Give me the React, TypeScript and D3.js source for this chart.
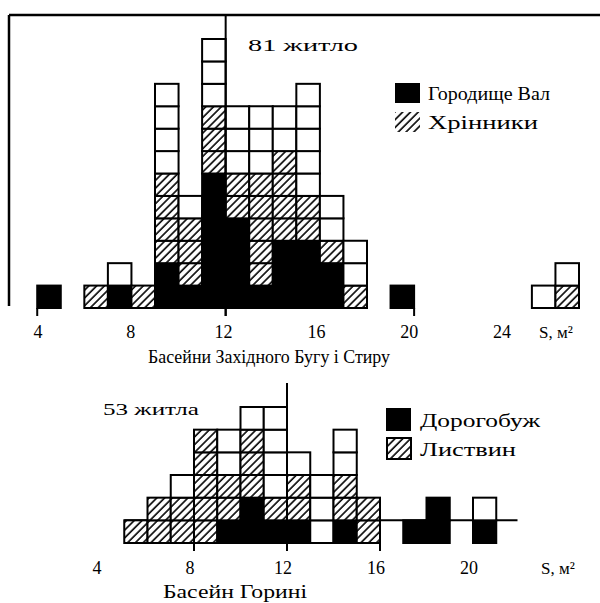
import React from "react";
import * as d3 from "d3";

// ---- Top chart: Western Bug & Styr basins (area bins, 1 m² wide) ----
const topBins = [4, 6, 7, 8, 9, 10, 11, 12, 13, 14, 15, 16, 17, 19, 25, 26];
const topBlack = [1, 0, 1, 0, 2, 1, 6, 4, 1, 3, 3, 2, 0, 1, 0, 0];
const topHatch = [0, 1, 0, 1, 4, 3, 3, 2, 5, 4, 2, 1, 1, 0, 0, 1];
const topTotal = [1, 1, 2, 1, 10, 5, 12, 9, 9, 9, 10, 5, 3, 1, 1, 2];
const topTicks = [4, 8, 12, 16, 20, 24];
const topTickMarks = [4, 12, 20, 28];

// ---- Bottom chart: Horyn basin ----
const botBins = [5, 6, 7, 8, 9, 10, 11, 12, 13, 14, 15, 17, 18, 20];
const botBlack = [0, 0, 0, 0, 1, 2, 1, 1, 0, 1, 0, 1, 2, 1];
const botHatch = [1, 2, 2, 5, 2, 3, 1, 2, 0, 2, 2, 0, 0, 0];
const botTotal = [1, 2, 3, 5, 5, 6, 6, 4, 3, 5, 2, 1, 2, 2];
const botTicks = [4, 8, 12, 16, 20];
const botTickMarks = [8, 12, 16];

const topTitle = "81 житло";
const botTitle = "53 житла";
const topLegend = ["Городище Вал", "Хрінники"];
const botLegend = ["Дорогобуж", "Листвин"];
const topAxisTitle = "Басейни Західного Бугу і Стиру";
const botAxisTitle = "Басейн Горині";
const unitLabel = "S, м²";

const FONT = "'Liberation Serif', 'DejaVu Serif', serif";

function Cells({ bins, black, hatch, total, x, y }: any) {
  const cells: any[] = [];
  bins.forEach((v: number, i: number) => {
    for (let k = 0; k < total[i]; k++) {
      const fill = k < black[i] ? "#000" : k < black[i] + hatch[i] ? "url(#hatch)" : "#fff";
      cells.push(
        <rect
          key={`${v}-${k}`}
          x={x(v)}
          y={y(k + 1)}
          width={x(v + 1) - x(v)}
          height={y(k) - y(k + 1)}
          fill={fill}
          stroke="#000"
          strokeWidth={2}
        />
      );
    }
  });
  return <g>{cells}</g>;
}

export default function App() {
  const xTop = d3.scaleLinear().domain([9, 18]).range([155, 367]);
  const yTop = d3.scaleLinear().domain([0, 12]).range([308, 39]);
  const xTopLabel = d3.scaleLinear().domain([4, 24]).range([38, 502]);

  const xBot = d3.scaleLinear().domain([12, 20]).range([287, 473]);
  const yBot = d3.scaleLinear().domain([0, 6]).range([543, 407]);
  const xBotLabel = d3.scaleLinear().domain([4, 20]).range([97, 469]);

  const sg = "spacingAndGlyphs";

  return (
    <svg
      width={600}
      height={603}
      style={{ position: "absolute", left: 0, top: 0, background: "#fff" }}
      fontFamily={FONT}
    >
      <defs>
        <pattern
          id="hatch"
          patternUnits="userSpaceOnUse"
          width={5.5}
          height={5.5}
          patternTransform="rotate(45)"
        >
          <rect width={5.5} height={5.5} fill="#fff" />
          <line x1={1} y1={0} x2={1} y2={5.5} stroke="#000" strokeWidth={1.6} />
        </pattern>
      </defs>

      {/* ===== Top chart ===== */}
      <line x1={9} y1={15} x2={600} y2={15} stroke="#000" strokeWidth={2.5} />
      <line x1={9} y1={15} x2={9} y2={306} stroke="#000" strokeWidth={2.5} />
      <Cells bins={topBins} black={topBlack} hatch={topHatch} total={topTotal} x={xTop} y={yTop} />
      <line x1={xTop(12)} y1={15} x2={xTop(12)} y2={316} stroke="#000" strokeWidth={2} />
      {topTickMarks.map((t) => (
        <line key={t} x1={xTop(t)} y1={yTop(0)} x2={xTop(t)} y2={316} stroke="#000" strokeWidth={2} />
      ))}
      {topTicks.map((t) => (
        <text key={t} x={xTopLabel(t)} y={338} fontSize={18} textAnchor="middle">
          {t}
        </text>
      ))}
      <text x={556} y={338} fontSize={17} textAnchor="middle">{unitLabel}</text>
      <text x={148} y={363} fontSize={18} textLength={242} lengthAdjust={sg}>{topAxisTitle}</text>
      <text x={248} y={51} fontSize={17} textLength={110} lengthAdjust={sg}>{topTitle}</text>

      <rect x={395} y={83} width={25} height={20} fill="#000" />
      <text x={428} y={100} fontSize={18} textLength={122} lengthAdjust={sg}>{topLegend[0]}</text>
      <rect x={395} y={112} width={25} height={20} fill="url(#hatch)" />
      <text x={428} y={129} fontSize={18} textLength={110} lengthAdjust={sg}>{topLegend[1]}</text>

      {/* ===== Bottom chart ===== */}
      <line x1={xBot(5)} y1={yBot(1)} x2={xBot(22) - 2} y2={yBot(1)} stroke="#000" strokeWidth={2} />
      <Cells bins={botBins} black={botBlack} hatch={botHatch} total={botTotal} x={xBot} y={yBot} />
      <line x1={xBot(12)} y1={383} x2={xBot(12)} y2={551} stroke="#000" strokeWidth={2} />
      {botTickMarks.map((t) => (
        <line key={t} x1={xBot(t)} y1={yBot(0)} x2={xBot(t)} y2={551} stroke="#000" strokeWidth={2} />
      ))}
      {botTicks.map((t) => (
        <text key={t} x={xBotLabel(t)} y={574} fontSize={18} textAnchor="middle">
          {t}
        </text>
      ))}
      <text x={558} y={574} fontSize={17} textAnchor="middle">{unitLabel}</text>
      <text x={163} y={598} fontSize={18} textLength={144} lengthAdjust={sg}>{botAxisTitle}</text>
      <text x={103} y={415} fontSize={17} textLength={96} lengthAdjust={sg}>{botTitle}</text>

      <rect x={386} y={408} width={25} height={23} fill="#000" />
      <text x={420} y={427} fontSize={18} textLength={120} lengthAdjust={sg}>{botLegend[0]}</text>
      <rect x={387} y={438} width={24} height={21} fill="url(#hatch)" stroke="#000" strokeWidth={2} />
      <text x={420} y={456} fontSize={18} textLength={96} lengthAdjust={sg}>{botLegend[1]}</text>
    </svg>
  );
}
